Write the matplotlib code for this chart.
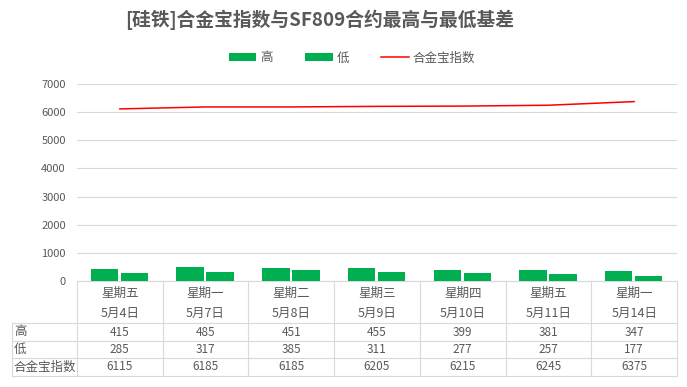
import matplotlib
matplotlib.use("Agg")
import matplotlib.pyplot as plt
import matplotlib.transforms as mtrans
import numpy as np

plt.rcParams['font.family'] = ['Noto Sans CJK SC', 'DejaVu Sans']

weekdays = ["星期五", "星期一", "星期二", "星期三", "星期四", "星期五", "星期一"]
dates = ["5月4日", "5月7日", "5月8日", "5月9日", "5月10日", "5月11日", "5月14日"]
high = [415, 485, 451, 455, 399, 381, 347]
low = [285, 317, 385, 311, 277, 257, 177]
index_vals = [6115, 6185, 6185, 6205, 6215, 6245, 6375]
row_labels = ["高", "低", "合金宝指数"]

TXT = "#595959"
GRID = "#D9D9D9"
GREEN = "#00B050"
RED = "#FF0000"

W, H = 687, 387
fig = plt.figure(figsize=(W / 100, H / 100), dpi=100)

def fx(px):
    return px / W

def fy(py):
    return 1 - py / H

left, right, top, bottom = 77, 677, 84, 281
ax = fig.add_axes([fx(left), fy(bottom), fx(right) - fx(left), fy(top) - fy(bottom)])

x = np.arange(len(weekdays))
bw = 0.32
b1 = ax.bar(x - 0.18, high, width=bw, color=GREEN, label="高", zorder=3)
b2 = ax.bar(x + 0.17, low, width=bw, color=GREEN, label="低", zorder=3)
l1, = ax.plot(x, index_vals, color=RED, lw=1.1, label="合金宝指数", zorder=4)

ax.set_xlim(-0.5, len(x) - 0.5)
ax.set_ylim(0, 7000)
ax.set_yticks(np.arange(0, 7001, 1000))
ax.tick_params(axis='y', length=0, labelsize=8, labelcolor=TXT, pad=8)
ax.tick_params(axis='x', length=0, labelbottom=False)
ax.grid(axis='y', color=GRID, lw=0.8, zorder=0)
for s in ['left', 'right', 'top']:
    ax.spines[s].set_visible(False)
ax.spines['bottom'].set_color(GRID)
ax.spines['bottom'].set_linewidth(0.8)
ax.set_xticks([])

# Title
fig.text(fx(320), fy(20), "[硅铁]合金宝指数与SF809合约最高与最低基差", ha='center', va='center',
         fontsize=13.5, fontweight='bold', color=TXT)

# Legend
leg = ax.legend([b1, b2, l1], ["高", "低", "合金宝指数"], loc='center',
                bbox_to_anchor=(fx(352), fy(58)), bbox_transform=fig.transFigure,
                ncol=3, frameon=False, fontsize=9, handlelength=2.2, handleheight=0.6,
                columnspacing=2.6, handletextpad=0.3, labelcolor=TXT)

# Data table
bt = mtrans.blended_transform_factory(ax.transData, fig.transFigure)
ft = fig.transFigure
hlines_y = [323, 341, 358, 376]
for yy in hlines_y:
    fig.add_artist(plt.Line2D([fx(12), fx(right)], [fy(yy), fy(yy)], color=GRID, lw=0.8, transform=ft))
fig.add_artist(plt.Line2D([fx(12), fx(12)], [fy(323), fy(376)], color=GRID, lw=0.8, transform=ft))
for i in range(len(x) + 1):
    xb = i - 0.5
    fig.add_artist(plt.Line2D([xb, xb], [fy(bottom), fy(376)], color=GRID, lw=0.8, transform=bt))

for i in range(len(x)):
    fig.text(x[i], fy(293), weekdays[i], transform=bt, ha='center', va='center', fontsize=9, color=TXT)
    fig.text(x[i], fy(313), dates[i], transform=bt, ha='center', va='center', fontsize=9, color=TXT)
    fig.text(x[i], fy(332), str(high[i]), transform=bt, ha='center', va='center', fontsize=8.5, color=TXT)
    fig.text(x[i], fy(349.5), str(low[i]), transform=bt, ha='center', va='center', fontsize=8.5, color=TXT)
    fig.text(x[i], fy(367), str(index_vals[i]), transform=bt, ha='center', va='center', fontsize=8.5, color=TXT)

for lab, yy in zip(row_labels, [332, 349.5, 367]):
    fig.text(fx(14), fy(yy), lab, ha='left', va='center', fontsize=9, color=TXT)

fig.savefig("out.png", dpi=100)
